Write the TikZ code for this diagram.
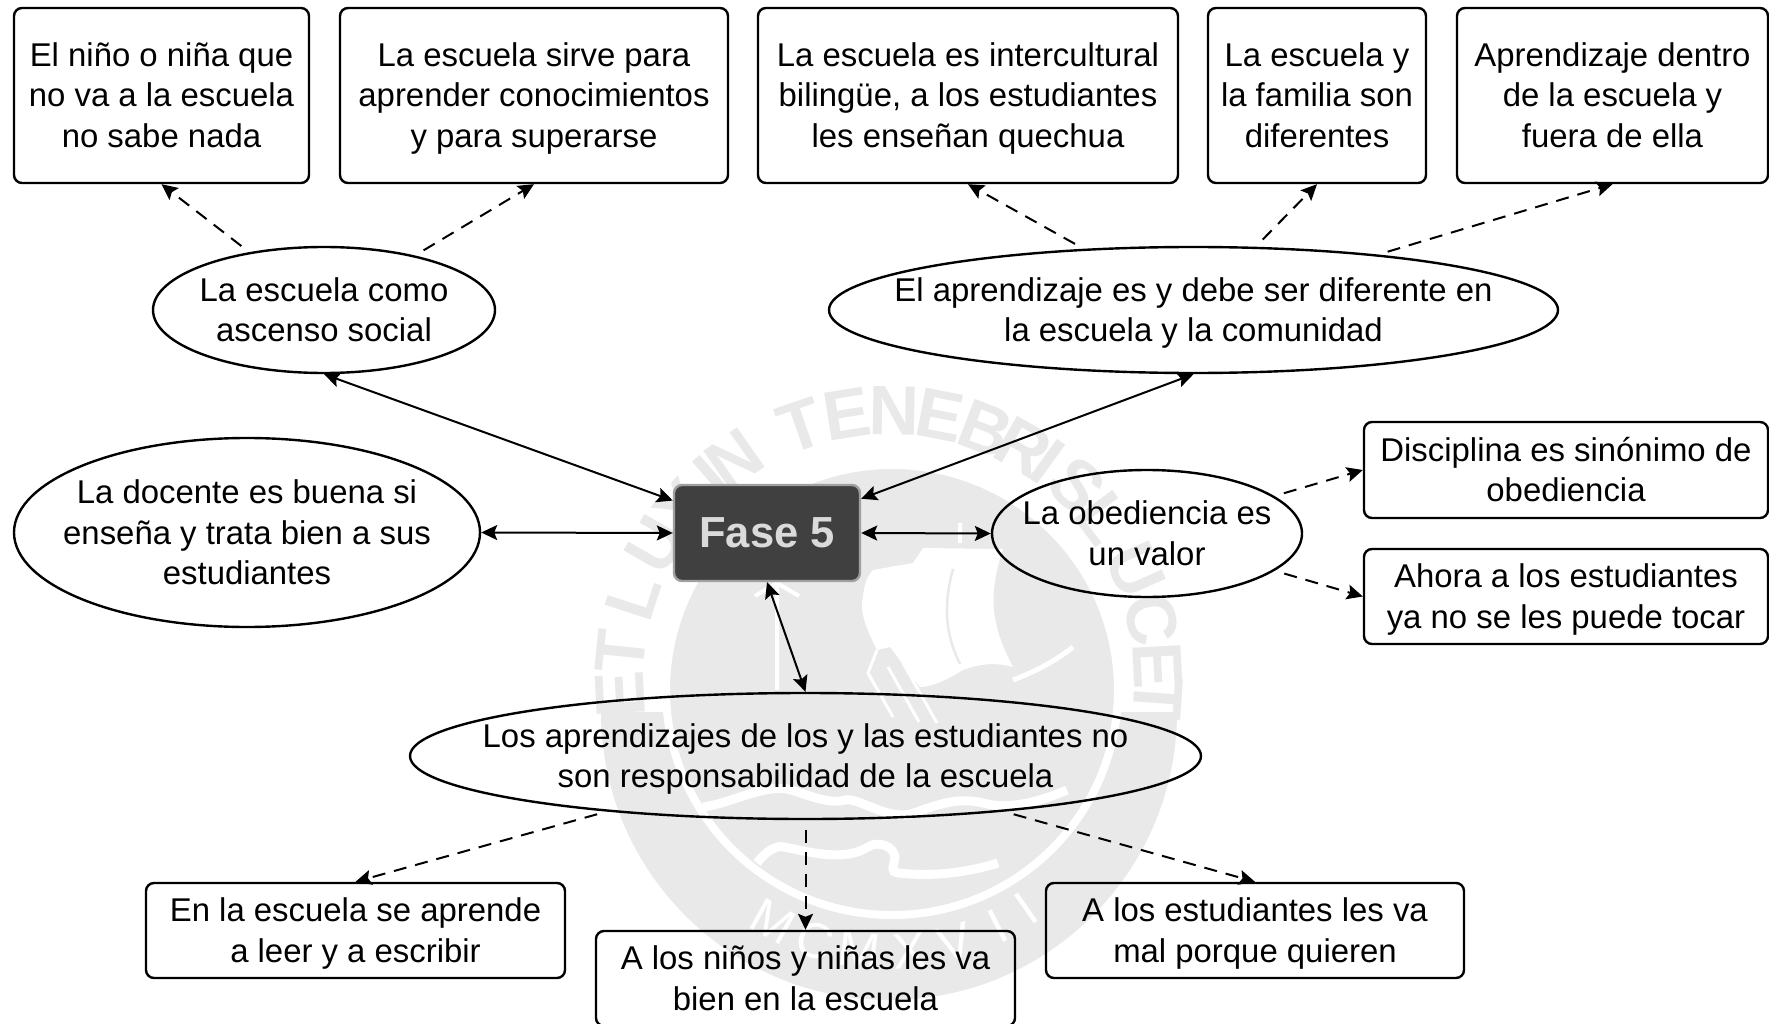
\documentclass[tikz,border=0pt]{standalone}
\usepackage{fontspec}
\setmainfont{Liberation Sans}
\usetikzlibrary{arrows.meta, shapes.geometric}
\definecolor{sealgray}{HTML}{E9E9E9}
\definecolor{fasefill}{HTML}{404040}
\definecolor{faseline}{HTML}{A0A0A0}
\definecolor{fasetext}{HTML}{DADADA}
\newcommand{\lineprop}{\rule[-8pt]{0pt}{39pt}}
\newcommand{\textlines}[1]{\lineprop #1\lineprop}
\tikzset{
	boxnode/.style = {draw, rectangle, rounded corners = 8pt, line width = 2.4pt, inner sep = 0pt, align = center},
	fasenode/.style = {draw = faseline, fill = fasefill, text = fasetext, rectangle, rounded corners = 8pt, line width = 2.4pt, inner sep = 0pt, font = \fontsize{43.5}{48}\selectfont\bfseries},
	ovalnode/.style = {draw, ellipse, line width = 2.4pt, inner sep = 0pt},
	ovaltext/.style = {inner sep = 0pt, align = center},
	solidlink/.style = {line width = 2pt, {Stealth[length = 16pt, width = 15pt, inset = 3pt]}-{Stealth[length = 16pt, width = 15pt, inset = 3pt]}},
	dashlink/.style = {line width = 2pt, dash pattern = on 13pt off 9pt, shorten <= 10pt, -{Stealth[length = 16pt, width = 15pt, inset = 3pt]}},
	sealletter/.style = {text = sealgray, inner sep = 0pt, font = \fontsize{70}{70}\selectfont\bfseries}
}

\begin{document}
\begin{tikzpicture}[x = 1pt, y = -1pt, font = \fontsize{32.9}{40.6}\selectfont]
	\useasboundingbox (0,0) rectangle (1769,1024);
	\clip (0,0) rectangle (1769,1024);
	% seal behind the diagram
	\begin{scope}[shift = {(889,712)}, x = 1pt, y = 1pt]
		\fill[sealgray] (180:288pt) arc[start angle = 180, end angle = 360, radius = 288pt] -- cycle;
		\fill[sealgray, draw = white, line width = 8pt] (3,22) ellipse[x radius = 226pt, y radius = 225pt];
		\fill[white] (34,164) -- (114,163) .. controls (100,120) and (100,90) .. (124,45) .. controls (105,50) and (90,48) .. (74,42) .. controls (55,30) and (40,25) .. (31,25) -- (1,65) -- (-12,62) .. controls (-22,82) and (-30,100) .. (-26,115) .. controls (-25,130) and (-20,138) .. (-16,142) -- (24,149) -- cycle;
		\draw[sealgray, line width = 2.5pt] (64,143) .. controls (55,110) and (55,80) .. (71,48);
		\draw[white, line width = 5pt] (124,32) .. controls (145,40) and (165,50) .. (184,65);
		\draw[white, line width = 3pt] (-12,62) -- (-21,39) -- (4,-5) (14,49) -- (48,-11) (-1,45) -- (30,-10);
		\draw[white, line width = 4pt] (-112,129) -- (-112,22) (-112,129) -- (-134,116) (-112,129) -- (-90,116) (71,189) -- (71,169);
		\draw[white, line width = 9pt] (-186,-95) .. controls (-160,-92) and (-120,-70) .. (-98,-78) .. controls (-75,-85) and (-60,-92) .. (-44,-88) .. controls (-30,-85) and (0,-110) .. (25,-101) .. controls (50,-92) and (70,-85) .. (94,-91) .. controls (120,-98) and (150,-90) .. (178,-78);
		\draw[white, line width = 9pt] (-132,-151) .. controls (-122,-138) and (-112,-133) .. (-105,-135) .. controls (-80,-140) and (-45,-150) .. (-21,-135) .. controls (-10,-128) and (5,-135) .. (6,-145) .. controls (5,-155) and (0,-160) .. (10,-161) .. controls (45,-165) and (80,-160) .. (109,-151);
		\foreach \ch/\ang [count = \i] in {M/-119, C/-108, M/-97, X/-85, V/-74, I/-63, I/-55}
			\node[white, rotate = \ang + 90, font = \fontsize{50}{50}\selectfont] (YEAR\i) at (\ang:240pt) {\ch};
	\end{scope}
	\begin{scope}[shift = {(889,680)}, x = 1pt, y = 1pt]
		\foreach \ch/\ang [count = \i] in {E/183, T/174, L/162, U/150, X/140, I/131, N/125, T/109, E/99, N/89, E/79, B/69, R/60, I/54, S/46, L/37, U/24, C/13, E/3, T/-4}
			\node[sealletter, anchor = south, rotate = \ang - 90] (SEAL\i) at (\ang:245pt) {\ch};
	\end{scope}
	% top row
	\node[boxnode, minimum width = 295pt, minimum height = 175pt] (NINO) at (161.5,95.5) {\textlines{El niño o niña que\\no va a la escuela\\no sabe nada}};
	\node[boxnode, minimum width = 388pt, minimum height = 175pt] (SIRVE) at (534,95.5) {\textlines{La escuela sirve para\\aprender conocimientos\\y para superarse}};
	\node[boxnode, minimum width = 420pt, minimum height = 175pt] (INTER) at (968,95.5) {\textlines{La escuela es intercultural\\bilingüe, a los estudiantes\\les enseñan quechua}};
	\node[boxnode, minimum width = 218pt, minimum height = 175pt] (FAM) at (1317,95.5) {\textlines{La escuela y\\la familia son\\diferentes}};
	\node[boxnode, minimum width = 311pt, minimum height = 175pt] (DENTRO) at (1612.5,95.5) {\textlines{Aprendizaje dentro\\de la escuela y\\fuera de ella}};
	% ovals
	\node[ovalnode, minimum width = 342pt, minimum height = 126pt] (ASC) at (324,310) {};
	\node[ovaltext] (ASCtext) at (ASC) {\textlines{La escuela como\\ascenso social}};
	\node[ovalnode, minimum width = 729pt, minimum height = 126pt] (APR) at (1193.5,310) {};
	\node[ovaltext] (APRtext) at (APR) {\textlines{El aprendizaje es y debe ser diferente en\\la escuela y la comunidad}};
	\node[ovalnode, minimum width = 466pt, minimum height = 189pt] (DOC) at (247,532.5) {};
	\node[ovaltext] (DOCtext) at (DOC) {\textlines{La docente es buena si\\enseña y trata bien a sus\\estudiantes}};
	\node[ovalnode, minimum width = 310pt, minimum height = 127pt] (OBE) at (1147,533.5) {};
	\node[ovaltext] (OBEtext) at (OBE) {\textlines{La obediencia es\\un valor}};
	\node[ovalnode, minimum width = 791pt, minimum height = 126pt] (RES) at (805.5,756) {};
	\node[ovaltext] (REStext) at (RES) {\textlines{Los aprendizajes de los y las estudiantes no\\son responsabilidad de la escuela}};
	\node[fasenode, minimum width = 186pt, minimum height = 96pt] (FASE) at (767,533) {Fase 5};
	% right and bottom boxes
	\node[boxnode, minimum width = 404pt, minimum height = 96pt] (DISC) at (1566,470) {\textlines{Disciplina es sinónimo de\\obediencia}};
	\node[boxnode, minimum width = 404pt, minimum height = 95pt] (TOCAR) at (1566,596.5) {\textlines{Ahora a los estudiantes\\ya no se les puede tocar}};
	\node[boxnode, minimum width = 419pt, minimum height = 95pt] (LEER) at (355.5,930.5) {\textlines{En la escuela se aprende\\a leer y a escribir}};
	\node[boxnode, minimum width = 419pt, minimum height = 95pt] (VA) at (805.5,978.5) {\textlines{A los niños y niñas les va\\bien en la escuela}};
	\node[boxnode, minimum width = 418pt, minimum height = 95pt] (MAL) at (1255,930.5) {\textlines{A los estudiantes les va\\mal porque quieren}};
	% links
	\draw[solidlink] (ASC.south) -- (FASE.161);
	\draw[solidlink] (APR.south) -- (FASE.20);
	\draw[solidlink] (DOC.east) -- (FASE.west);
	\draw[solidlink] (FASE.east) -- (OBE.west);
	\draw[solidlink] (FASE.south) -- (RES.north);
	\draw[dashlink] (ASC) -- (NINO.south);
	\draw[dashlink] (ASC) -- (SIRVE.south);
	\draw[dashlink] (APR) -- (INTER.south);
	\draw[dashlink] (APR) -- (FAM.south);
	\draw[dashlink] (APR) -- (DENTRO.south);
	\draw[dashlink] (OBE) -- (DISC.west);
	\draw[dashlink] (OBE) -- (TOCAR.west);
	\draw[dashlink] (RES) -- (LEER.north);
	\draw[dashlink] (RES) -- (VA.north);
	\draw[dashlink] (RES) -- (MAL.north);
\end{tikzpicture}
\end{document}
